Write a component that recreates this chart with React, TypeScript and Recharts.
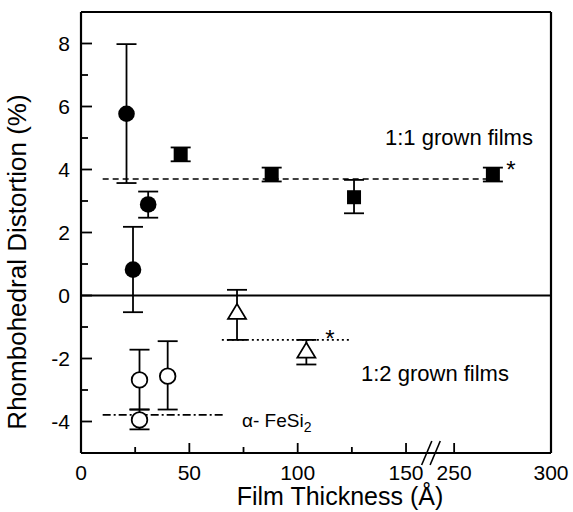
import React from 'react';
import { ComposedChart, Scatter, ErrorBar, XAxis, YAxis, ReferenceLine } from 'recharts';

const FONT = '"Liberation Sans", Arial, Helvetica, sans-serif';

// broken x axis: 0..150 at full scale, 250..300 squeezed in after the break
const BREAK_FROM = 250;
const BREAK_AT = 172.2;
const RIGHT_SCALE = 0.894;
const toPlot = (x: number) => (x < 200 ? x : BREAK_AT + (x - BREAK_FROM) * RIGHT_SCALE);
const X_MAX = toPlot(300);

const xTickLabels = [0, 25, 50, 75, 100, 125, 150, 250, 300];
const yTickLabels = [-4, -3, -2, -1, 0, 1, 2, 3, 4, 5, 6, 7, 8];

// 1:1 grown films
const circleX = [21, 31, 24];
const circleY = [5.77, 2.89, 0.82];
const circleLo = [3.57, 2.47, -0.53];
const circleHi = [7.98, 3.3, 2.18];

const squareX = [46, 88, 126, 270];
const squareY = [4.48, 3.84, 3.12, 3.84];
const squareLo = [4.26, 3.62, 2.61, 3.62];
const squareHi = [4.7, 4.06, 3.67, 4.06];

// 1:2 grown films
const openCircleX = [27, 40, 27];
const openCircleY = [-2.68, -2.56, -3.95];
const openCircleLo = [-3.62, -3.62, -4.25];
const openCircleHi = [-1.72, -1.45, -3.62];

const triangleX = [72, 104];
const triangleY = [-0.52, -1.75];
const triangleLo = [-1.41, -2.19];
const triangleHi = [0.18, -1.41];

// reference levels [y, xFrom, xTo]
const level11 = [3.7, 10, 270];
const level12 = [-1.41, 65, 124];
const levelAlpha = [-3.79, 10, 66];

const build = (xs: number[], ys: number[], lo: number[], hi: number[]) =>
    xs.map((x, i) => ({ x: toPlot(x), y: ys[i], err: [ys[i] - lo[i], hi[i] - ys[i]] }));

const FilledCircle = (p: any) => <circle cx={p.cx} cy={p.cy} r={8.3} fill="#000" />;
const OpenCircle = (p: any) => <circle cx={p.cx} cy={p.cy} r={7.8} fill="#fff" stroke="#000" strokeWidth={1.8} />;
const FilledSquare = (p: any) => <rect x={p.cx - 7} y={p.cy - 7} width={14} height={14} fill="#000" />;
const OpenTriangle = (p: any) => (
    <path
        d={`M${p.cx},${p.cy - 8} L${p.cx + 9},${p.cy + 7} L${p.cx - 9},${p.cy + 7} Z`}
        fill="#fff"
        stroke="#000"
        strokeWidth={1.8}
    />
);

const XTick = (props: any) => {
    const { x, y, index } = props;
    const v = xTickLabels[index];
    const major = v % 50 === 0;
    return (
        <g>
            <line x1={x} x2={x} y1={y} y2={y - (major ? 10 : 6)} stroke="#000" strokeWidth={1.8} />
            {major && (
                <text x={x} y={y + 27} textAnchor="middle" fontSize={21} fontFamily={FONT} fill="#000">
                    {v}
                </text>
            )}
        </g>
    );
};

const YTick = (props: any) => {
    const { x, y, index } = props;
    const v = yTickLabels[index];
    const major = v % 2 === 0;
    return (
        <g>
            <line x1={x} x2={x + (major ? 11 : 7)} y1={y} y2={y} stroke="#000" strokeWidth={1.8} />
            {major && (
                <text x={x - 11} y={y} dy="0.35em" textAnchor="end" fontSize={21} fontFamily={FONT} fill="#000">
                    {v}
                </text>
            )}
        </g>
    );
};

export default function App() {
    const circles = build(circleX, circleY, circleLo, circleHi);
    const squares = build(squareX, squareY, squareLo, squareHi);
    const openCircles = build(openCircleX, openCircleY, openCircleLo, openCircleHi);
    const triangles = build(triangleX, triangleY, triangleLo, triangleHi);

    const levelLine = (lv: number[], dash: string) => (
        <ReferenceLine
            segment={[{ x: toPlot(lv[1]), y: lv[0] }, { x: toPlot(lv[2]), y: lv[0] }]}
            stroke="#000"
            strokeWidth={1.6}
            strokeDasharray={dash}
        />
    );

    return (
        <div style={{ position: 'absolute', left: 0, top: 0, background: '#fff' }}>
            <ComposedChart width={573} height={512} margin={{ top: 12, right: 22, bottom: 29, left: 21 }}>
                <XAxis
                    type="number"
                    dataKey="x"
                    domain={[0, X_MAX]}
                    allowDataOverflow
                    ticks={xTickLabels.map(toPlot)}
                    interval={0}
                    height={30}
                    tickSize={0}
                    tickMargin={0}
                    tick={<XTick />}
                    axisLine={{ stroke: '#000', strokeWidth: 2.2 }}
                />
                <YAxis
                    type="number"
                    dataKey="y"
                    domain={[-5, 9]}
                    allowDataOverflow
                    ticks={yTickLabels}
                    interval={0}
                    width={60}
                    tickSize={0}
                    tickMargin={0}
                    tick={<YTick />}
                    axisLine={{ stroke: '#000', strokeWidth: 2.2 }}
                />
                <ReferenceLine y={9} stroke="#000" strokeWidth={2.2} />
                <ReferenceLine x={X_MAX} stroke="#000" strokeWidth={2.2} />
                <ReferenceLine y={0} stroke="#000" strokeWidth={2.2} />
                {levelLine(level11, '6 4')}
                {levelLine(level12, '2 3')}
                {levelLine(levelAlpha, '8 3 2 3')}

                {/* axis break marks */}
                <ReferenceLine segment={[{ x: 159.5, y: -5 }, { x: 163.4, y: -5 }]} stroke="#fff" strokeWidth={4} ifOverflow="visible" />
                <ReferenceLine segment={[{ x: 157.2, y: -5.38 }, { x: 161.9, y: -4.62 }]} stroke="#000" strokeWidth={1.6} ifOverflow="visible" />
                <ReferenceLine segment={[{ x: 161.1, y: -5.38 }, { x: 165.8, y: -4.62 }]} stroke="#000" strokeWidth={1.6} ifOverflow="visible" />

                <Scatter data={circles} shape={FilledCircle} isAnimationActive={false}>
                    <ErrorBar dataKey="err" direction="y" width={10} stroke="#000" strokeWidth={1.8} />
                </Scatter>
                <Scatter data={squares} shape={FilledSquare} isAnimationActive={false}>
                    <ErrorBar dataKey="err" direction="y" width={10} stroke="#000" strokeWidth={1.8} />
                </Scatter>
                <Scatter data={openCircles} shape={OpenCircle} isAnimationActive={false}>
                    <ErrorBar dataKey="err" direction="y" width={10} stroke="#000" strokeWidth={1.8} />
                </Scatter>
                <Scatter data={triangles} shape={OpenTriangle} isAnimationActive={false}>
                    <ErrorBar dataKey="err" direction="y" width={10} stroke="#000" strokeWidth={1.8} />
                </Scatter>

                <text x={385} y={145} fontSize={22} fontFamily={FONT} fill="#000">1:1 grown films</text>
                <text x={361} y={381} fontSize={22} fontFamily={FONT} fill="#000">1:2 grown films</text>
                <text x={242} y={427} fontSize={19} fontFamily={FONT} fill="#000">
                    α- FeSi<tspan dy={5} fontSize={14}>2</tspan>
                </text>
                <text x={511} y={178} fontSize={24} fontFamily={FONT} fill="#000" textAnchor="middle">*</text>
                <text x={330} y={347} fontSize={24} fontFamily={FONT} fill="#000" textAnchor="middle">*</text>
                <text x={340} y={505} fontSize={25} fontFamily={FONT} fill="#000" textAnchor="middle">Film Thickness (Å)</text>
                <text transform="translate(26,262) rotate(-90)" fontSize={26} fontFamily={FONT} fill="#000" textAnchor="middle">
                    Rhombohedral Distortion (%)
                </text>
            </ComposedChart>
        </div>
    );
}
